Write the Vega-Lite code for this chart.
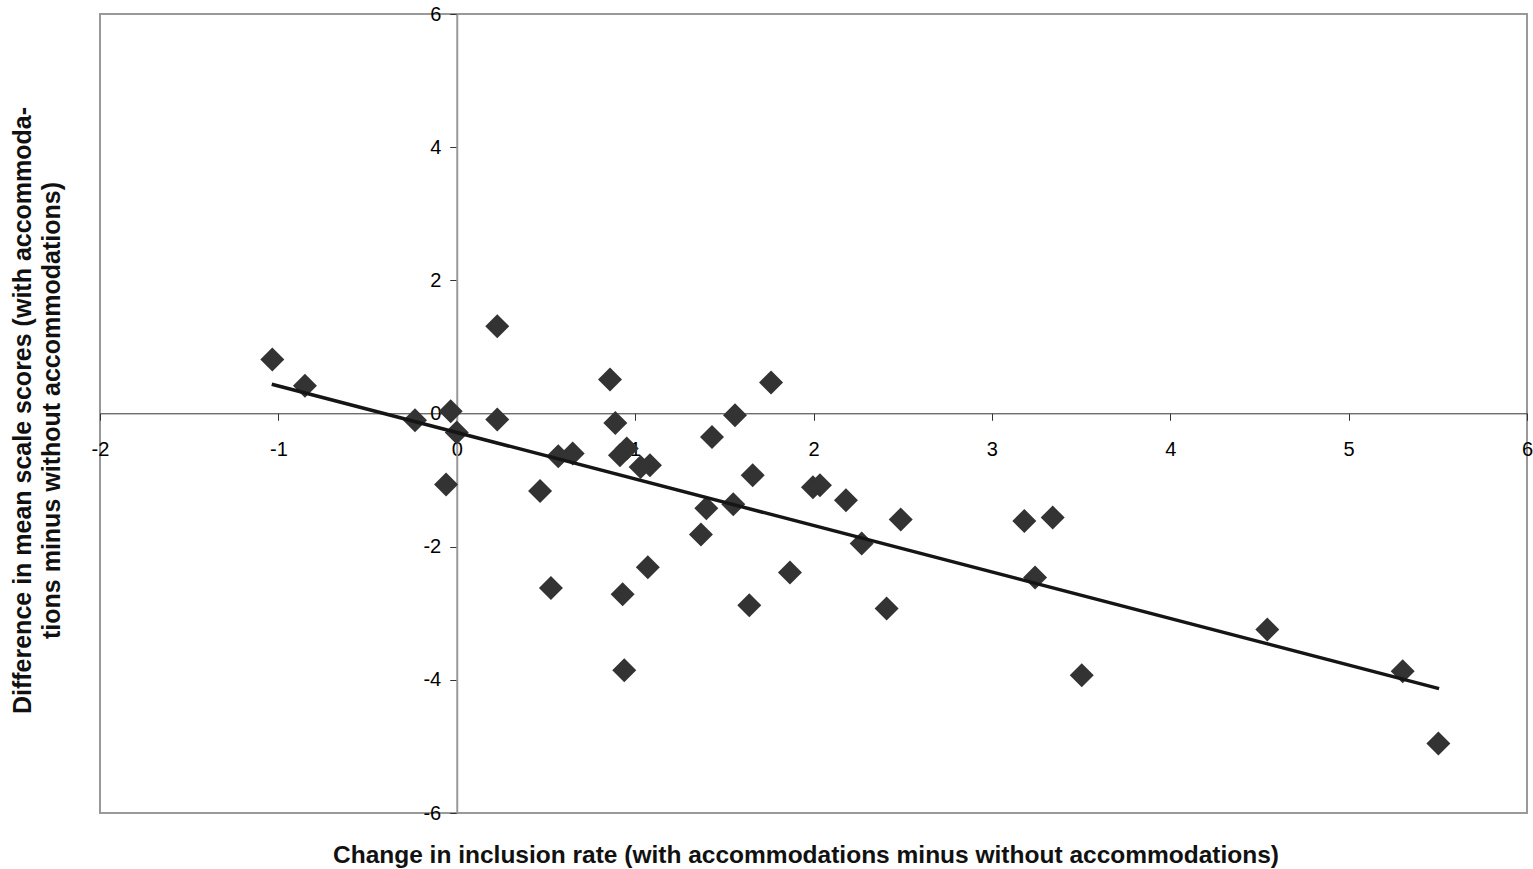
{
  "$schema": "https://vega.github.io/schema/vega-lite/v6.json",
  "width": 1427,
  "height": 799,
  "autosize": {"type": "none"},
  "padding": {"left": 100, "top": 14, "right": 6, "bottom": 56},
  "background": "white",
  "config": {"view": {"stroke": "#999999", "strokeWidth": 2}, "font": "Liberation Sans"},
  "datasets": {
    "points": [
      {"x": -1.034, "y": 0.811}, {"x": -0.851, "y": 0.415}, {"x": -0.234, "y": -0.101},
      {"x": -0.034, "y": 0.035}, {"x": 0.0, "y": -0.285}, {"x": -0.06, "y": -1.067},
      {"x": 0.227, "y": 1.312}, {"x": 0.227, "y": -0.09}, {"x": 0.467, "y": -1.163},
      {"x": 0.528, "y": -2.62}, {"x": 0.569, "y": -0.642}, {"x": 0.65, "y": -0.601},
      {"x": 0.859, "y": 0.511}, {"x": 0.889, "y": -0.141}, {"x": 0.915, "y": -0.627},
      {"x": 0.953, "y": -0.526}, {"x": 0.93, "y": -2.715}, {"x": 0.939, "y": -3.857},
      {"x": 1.031, "y": -0.802}, {"x": 1.083, "y": -0.777}, {"x": 1.071, "y": -2.309},
      {"x": 1.369, "y": -1.816}, {"x": 1.399, "y": -1.423}, {"x": 1.431, "y": -0.352},
      {"x": 1.55, "y": -1.363}, {"x": 1.56, "y": -0.026}, {"x": 1.64, "y": -2.88},
      {"x": 1.659, "y": -0.927}, {"x": 1.762, "y": 0.466}, {"x": 1.868, "y": -2.389},
      {"x": 1.997, "y": -1.107}, {"x": 2.036, "y": -1.077}, {"x": 2.182, "y": -1.303},
      {"x": 2.27, "y": -1.953}, {"x": 2.41, "y": -2.93}, {"x": 2.489, "y": -1.593},
      {"x": 3.182, "y": -1.614}, {"x": 3.242, "y": -2.464}, {"x": 3.341, "y": -1.563},
      {"x": 3.504, "y": -3.932}, {"x": 4.544, "y": -3.245}, {"x": 5.303, "y": -3.872},
      {"x": 5.503, "y": -4.958}
    ],
    "trend": [
      {"x": -1.037, "y": 0.44},
      {"x": 5.507, "y": -4.132}
    ]
  },
  "encoding": {
    "x": {
      "field": "x",
      "type": "quantitative",
      "scale": {"domain": [-2, 6], "nice": false, "zero": false},
      "axis": {
        "values": [-2, -1, 0, 1, 2, 3, 4, 5, 6],
        "labelExpr": "replace(datum.label, '\u2212', '-')",
        "offset": -399.7,
        "grid": false,
        "domainColor": "#333333",
        "domainWidth": 1,
        "tickColor": "#333333",
        "tickSize": 7,
        "tickWidth": 1,
        "labelFontSize": 20,
        "labelColor": "#000000",
        "labelPadding": 19,
        "labelFlush": false,
        "labelOverlap": false,
        "labelFont": "Liberation Sans",
        "title": "Change in inclusion rate (with accommodations minus without accommodations)",
        "titleFont": "Liberation Sans",
        "titleFontSize": 24.5,
        "titleFontWeight": "bold",
        "titleColor": "#111111",
        "titleX": 705.5,
        "titleY": 442,
        "titleAlign": "center",
        "titleBaseline": "middle"
      }
    },
    "y": {
      "field": "y",
      "type": "quantitative",
      "scale": {"domain": [-6, 6], "nice": false, "zero": false},
      "axis": {
        "values": [-6, -4, -2, 0, 2, 4, 6],
        "labelExpr": "replace(datum.label, '\u2212', '-')",
        "offset": -356.75,
        "grid": false,
        "domainColor": "#999999",
        "domainWidth": 2,
        "tickColor": "#333333",
        "tickSize": 7,
        "tickWidth": 1,
        "labelFontSize": 20,
        "labelColor": "#000000",
        "labelPadding": 9,
        "labelFlush": false,
        "labelOverlap": false,
        "labelFont": "Liberation Sans",
        "title": ["Difference in mean scale scores (with accommoda-", "tions minus without accommodations)"],
        "titleFont": "Liberation Sans",
        "titleFontSize": 25,
        "titleFontWeight": "bold",
        "titleColor": "#111111",
        "titleLineHeight": 29,
        "titleX": -434.5,
        "titleY": 396,
        "titleAlign": "center",
        "titleBaseline": "middle"
      }
    }
  },
  "layer": [
    {
      "data": {"name": "points"},
      "mark": {"type": "point", "shape": "diamond", "filled": true, "color": "#333333", "opacity": 1, "size": 576}
    },
    {
      "data": {"name": "trend"},
      "mark": {"type": "line", "color": "#151515", "strokeWidth": 3.5}
    }
  ]
}
